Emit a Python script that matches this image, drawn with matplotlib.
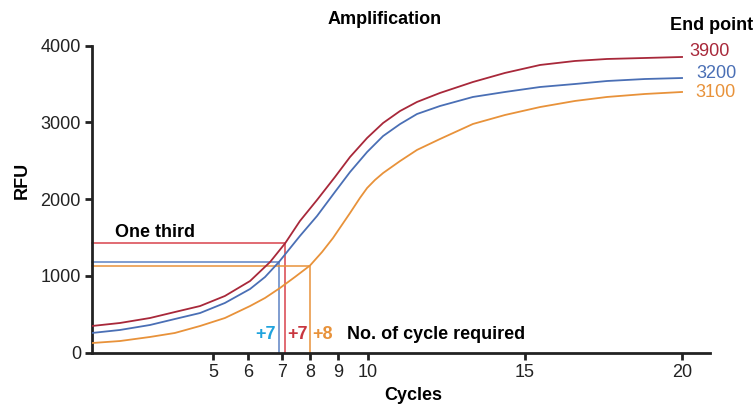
import numpy as np
import matplotlib
matplotlib.use("Agg")
import matplotlib.pyplot as plt

plt.rcParams['font.family'] = ['Liberation Sans', 'DejaVu Sans']

# Curve readings (cycle, RFU)
red_cycles = [1.54, 2.34, 3.2, 3.91, 4.63, 5.34, 6.06, 6.65, 7.11, 7.64, 8.25, 8.89, 9.4, 9.97,
              10.48, 11.02, 11.56, 12.29, 13.34, 14.36, 15.48, 16.59, 17.61, 18.82, 20.0]
red_rfu = [348, 387, 452, 530, 608, 739, 934, 1182, 1425, 1716, 1990, 2289, 2550, 2798,
           2993, 3149, 3267, 3384, 3527, 3645, 3749, 3801, 3827, 3840, 3853]

blue_cycles = [1.54, 2.34, 3.2, 3.91, 4.63, 5.34, 6.06, 6.5, 6.91, 7.64, 8.25, 8.89, 9.4, 9.97,
               10.48, 11.02, 11.56, 12.29, 13.34, 14.36, 15.48, 16.59, 17.61, 18.82, 20.0]
blue_rfu = [257, 296, 361, 439, 517, 648, 830, 986, 1182, 1521, 1781, 2094, 2354, 2615,
            2823, 2979, 3110, 3214, 3332, 3397, 3462, 3501, 3540, 3566, 3579]

orange_cycles = [1.54, 2.34, 3.2, 3.91, 4.63, 5.34, 6.06, 6.5, 6.94, 7.46, 8.0, 8.43, 8.82, 9.4,
                 9.73, 9.97, 10.22, 10.48, 11.02, 11.56, 12.29, 13.34, 14.36, 15.48, 16.59,
                 17.61, 18.82, 20.0]
orange_rfu = [126, 152, 205, 257, 348, 452, 608, 713, 843, 986, 1136, 1312, 1494, 1820,
              2016, 2146, 2250, 2341, 2497, 2642, 2784, 2980, 3097, 3201, 3280,
              3332, 3371, 3397]

# thresholds ("one third") and cycles where each curve crosses it
thr_rfu = {"red": 1425, "blue": 1182, "orange": 1136}
thr_cycle = {"red": 7.09, "blue": 6.91, "orange": 8.0}
cycle_labels = {"blue": "+7", "red": "+7", "orange": "+8"}
end_labels = {"red": "3900", "blue": "3200", "orange": "3100"}

x_ticks = [5, 6, 7, 8, 9, 10, 15, 20]
y_ticks = [0, 1000, 2000, 3000, 4000]

# the cycle axis in the source is not evenly spaced
knot_cycles = np.array([1, 5, 6, 7, 8, 9, 10, 15, 20, 21])
knot_pos = np.array([73, 213, 248, 282, 310, 338, 368, 525, 682, 713.4])

def fwd(x):
    return np.interp(x, knot_cycles, knot_pos)

def inv(p):
    return np.interp(p, knot_pos, knot_cycles)

curve_col = {"red": "#A8283A", "blue": "#4A6FB5", "orange": "#E8923A"}
box_col = {"red": "#D9434C", "blue": "#5C82C4", "orange": "#E8923A"}
text_col = {"red": "#C8363F", "blue": "#1FA3DD", "orange": "#E8923A"}

fig = plt.figure(figsize=(7.54, 4.05), dpi=100)
ax = fig.add_axes([92 / 754, 1 - 352.7 / 405, (710 - 92) / 754, (352.7 - 45.7) / 405])
ax.set_xscale('function', functions=(fwd, inv))
ax.set_xlim(1.543, 20.89)
ax.set_ylim(0, 4000)

for cyc, rfu, key in [(red_cycles, red_rfu, "red"), (blue_cycles, blue_rfu, "blue"),
                      (orange_cycles, orange_rfu, "orange")]:
    ax.plot(cyc, rfu, color=curve_col[key], lw=1.3, solid_joinstyle='round', zorder=3)

for key in ["red", "blue", "orange"]:
    c = thr_cycle[key]
    r = thr_rfu[key]
    ax.plot([1.543, c, c], [r, r, 0], color=box_col[key], lw=1.1, clip_on=False)

ax.text(2.2, 1560, "One third", fontsize=13, fontweight='bold', va='center', ha='left')
ax.text(6.5, 240, cycle_labels["blue"], color=text_col["blue"], fontsize=13, fontweight='bold', ha='center', va='center')
ax.text(7.54, 240, cycle_labels["red"], color=text_col["red"], fontsize=13, fontweight='bold', ha='center', va='center')
ax.text(8.46, 240, cycle_labels["orange"], color=text_col["orange"], fontsize=13, fontweight='bold', ha='center', va='center')
ax.text(9.3, 240, "No. of cycle required", fontsize=13, fontweight='bold', ha='left', va='center')

ax.text(20.22, 3918, end_labels["red"], color=curve_col["red"], fontsize=13, ha='left', va='center')
ax.text(20.45, 3644, end_labels["blue"], color=curve_col["blue"], fontsize=13, ha='left', va='center')
ax.text(20.42, 3384, end_labels["orange"], color=curve_col["orange"], fontsize=13, ha='left', va='center')

fig.text(385 / 754, 1 - 20 / 405, "Amplification", fontsize=13, fontweight='bold', ha='center', va='center')
fig.text(712 / 754, 1 - 25 / 405, "End point", fontsize=13, fontweight='bold', ha='center', va='center')
fig.text(22 / 754, 1 - 180 / 405, "RFU", fontsize=13, fontweight='bold', ha='center', va='center', rotation=90)
fig.text(413 / 754, 1 - 395 / 405, "Cycles", fontsize=13, fontweight='bold', ha='center', va='center')

ax.set_xticks(x_ticks)
ax.set_xticklabels([str(t) for t in x_ticks])
ax.set_yticks(y_ticks)
ax.minorticks_off()
ax.tick_params(direction='out', length=5, width=2, labelsize=13, colors='#222222', pad=3)
for s in ['top', 'right']:
    ax.spines[s].set_visible(False)
for s in ['left', 'bottom']:
    ax.spines[s].set_linewidth(2)
    ax.spines[s].set_color('#222222')

fig.savefig("out.png", dpi=100)
